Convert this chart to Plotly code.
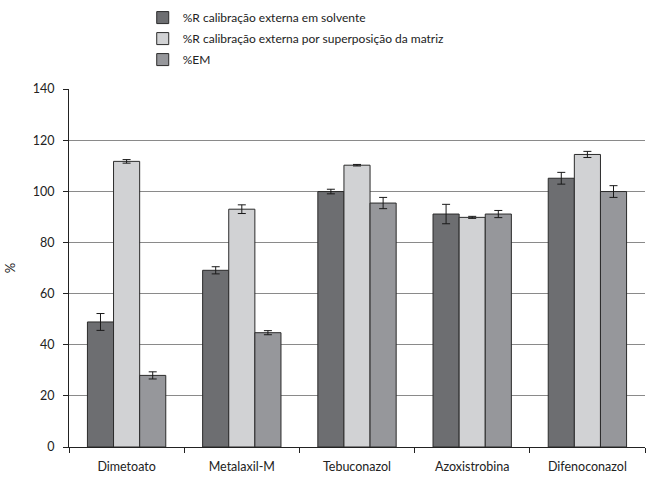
import plotly.graph_objects as go

categories = ["Dimetoato", "Metalaxil-M", "Tebuconazol", "Azoxistrobina", "Difenoconazol"]
series_names = [
    "%R calibração externa em solvente",
    "%R calibração externa por superposição da matriz",
    "%EM",
]
r_solvente = [48.9, 69.1, 99.9, 91.1, 105.1]
r_solvente_err = [3.3, 1.4, 0.9, 3.8, 2.3]
r_matriz = [111.7, 93.0, 110.2, 89.8, 114.4]
r_matriz_err = [0.7, 1.7, 0.3, 0.4, 1.2]
em = [28.0, 44.7, 95.4, 91.1, 99.9]
em_err = [1.4, 0.8, 2.2, 1.4, 2.3]
y_ticks = [0, 20, 40, 60, 80, 100, 120, 140]

colors = ["#6d6e71", "#d1d2d4", "#96979b"]
values = [r_solvente, r_matriz, em]
errors = [r_solvente_err, r_matriz_err, em_err]

fig = go.Figure()
for i, (name, v, e, c) in enumerate(zip(series_names, values, errors, colors)):
    fig.add_trace(go.Bar(
        x=categories, y=v, name=name, legendgroup=f"g{i}",
        marker=dict(color=c, line=dict(color="#2b2b2b", width=1)),
        error_y=dict(type="data", array=e, visible=True, color="#1a1a1a", thickness=1, width=4),
    ))

fig.update_layout(
    width=651, height=477,
    margin=dict(l=69, r=6, t=89, b=30, autoexpand=False),
    paper_bgcolor="white", plot_bgcolor="white",
    font=dict(family="Lato, Open Sans, sans-serif", size=12, color="#222"),
    barmode="group", bargap=0.32, bargroupgap=0,
    showlegend=True,
    legend=dict(x=0.128, y=1.24, xanchor="left", yanchor="top", orientation="v",
                font=dict(size=12), traceorder="grouped", tracegroupgap=2,
                itemwidth=30, bgcolor="rgba(0,0,0,0)"),
    xaxis=dict(type="category", showline=True, linecolor="#222", linewidth=1,
               ticks="outside", tickson="boundaries", ticklen=5, tickcolor="#222",
               showgrid=False, tickfont=dict(size=12.5), ticklabelstandoff=8,
               automargin=False),
    yaxis=dict(range=[0, 140], tickvals=y_ticks, showline=True, linecolor="#222", linewidth=1,
               ticks="outside", ticklen=5, tickcolor="#222",
               showgrid=True, gridcolor="#8a8a8a", gridwidth=1,
               title=dict(text="%", standoff=14, font=dict(size=13)),
               tickfont=dict(size=12.5), ticklabelstandoff=6, zeroline=False,
               automargin=False),
)

fig.write_html("out.html")
